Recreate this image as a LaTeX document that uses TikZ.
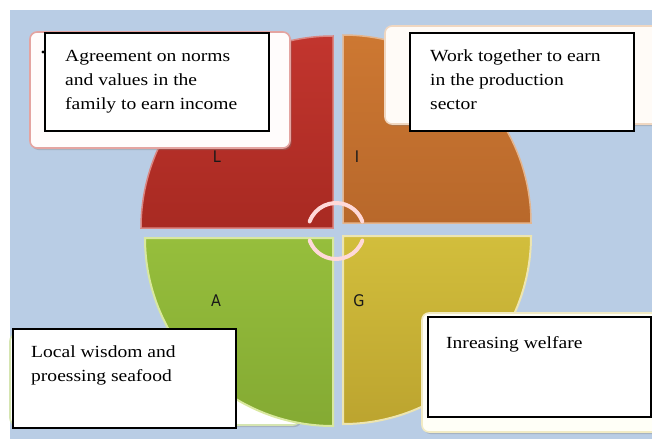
\documentclass[tikz,border=0pt]{standalone}
\usepackage{fontspec}
\newfontfamily\boxfont[FakeStretch=1.15]{Liberation Serif}
\newfontfamily\letterfont{DejaVu Sans}
\usetikzlibrary{shadows}
\definecolor{bgblue}{HTML}{B9CDE5}
\definecolor{qred}{HTML}{C2352E}
\definecolor{qredd}{HTML}{A82A22}
\definecolor{qorange}{HTML}{CD7832}
\definecolor{qoranged}{HTML}{B8682B}
\definecolor{qgreen}{HTML}{96BE3C}
\definecolor{qgreend}{HTML}{84AA33}
\definecolor{qyellow}{HTML}{D2BE3C}
\definecolor{qyellowd}{HTML}{BCA42F}
\tikzset{
  backbox/.style={rounded corners=7pt, line width=1.6pt, drop shadow={shadow xshift=1.5pt,shadow yshift=-2pt,opacity=0.35}},
  frontbox/.style={draw=black, line width=1.1pt, fill=white},
  boxtext/.style={anchor=north west, align=left, inner sep=0pt, font=\boxfont\fontsize{17}{24}\selectfont},
  qletter/.style={font=\letterfont\fontsize{16}{18}\selectfont, text=black!90, xscale=0.9},
  cyc/.style={draw=white!85!red, line width=4pt, line cap=round}
}
\begin{document}
\begin{tikzpicture}[x=1pt,y=-1pt]
\useasboundingbox (0,0) rectangle (652,439);
\fill[white] (0,0) rectangle (652,439);
\fill[bgblue] (10,10) rectangle (652,439);

% box 3 back (behind the circle)
\path[backbox, draw=qgreen!40!white, fill=white] (10,334) rectangle (300,425);

% quadrants
\coordinate (cL) at (333,228);
\coordinate (cI) at (343,223);
\coordinate (cA) at (333,238);
\coordinate (cG) at (343,236);
\path[top color=qred, bottom color=qredd, draw=qred!60!white, line width=1.5pt]
  (cL) -- ++(-192,0) arc[start angle=180,end angle=270,radius=192] -- cycle;
\path[top color=qorange, bottom color=qoranged, draw=qorange!55!white, line width=1.5pt]
  (cI) -- ++(0,-188) arc[start angle=270,end angle=360,radius=188] -- cycle;
\path[top color=qgreen, bottom color=qgreend, draw=qgreen!40!white!90!yellow, line width=2pt]
  (cA) -- ++(-188,0) arc[start angle=180,end angle=90,radius=188] -- cycle;
\path[top color=qyellow, bottom color=qyellowd, draw=qyellow!40!white, line width=2pt]
  (cG) -- ++(0,188) arc[start angle=90,end angle=0,radius=188] -- cycle;

% cycle arcs in the centre
\coordinate (cc) at (336,231);
\draw[cyc] ([shift={(200:28)}]cc) arc[start angle=200,end angle=340,radius=28];
\draw[cyc] ([shift={(20:28)}]cc) arc[start angle=20,end angle=160,radius=28];

% quadrant letters
\node[qletter] (lL) at (217,157) {L};
\node[qletter] (lI) at (357,157) {I};
\node[qletter] (lA) at (216,301) {A};
\node[qletter] (lG) at (359,301) {G};

% box 1 (top left)
\path[backbox, draw=qred!45!white, fill=white!95!pink] (30,32) rectangle (290,148);
\fill[black] (43,52) circle (1.6pt);
\path[frontbox] (45,33) rectangle (269,131);
\node[boxtext] (t1) at (65,50) {Agreement on norms\\and values in the\\family to earn income};

% box 2 (top right)
\path[backbox, draw=qorange!30!white, fill=white!97!orange] (385,26) rectangle (662,124);
\path[frontbox] (410,33) rectangle (634,131);
\node[boxtext] (t2) at (430,50) {Work together to earn\\in the production\\sector};

% box 3 front (bottom left)
\path[frontbox] (13,329) rectangle (236,428);
\node[boxtext] (t3) at (31,345) {Local wisdom and\\proessing seafood};

% box 4 (bottom right)
\path[backbox, draw=qyellow!30!white, fill=white!97!yellow] (422,313) rectangle (662,432);
\path[frontbox] (428,317) rectangle (651,417);
\node[boxtext] (t4) at (446,336) {Inreasing welfare};
\end{tikzpicture}
\end{document}
